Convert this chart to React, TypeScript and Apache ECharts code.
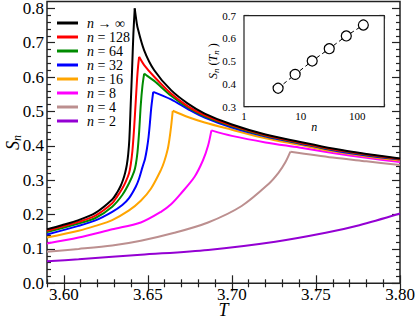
import React, { useEffect, useRef } from "react";
import * as echarts from "echarts";

// ---------- data ----------
const SERIES_NAMES = ["n → ∞", "n = 128", "n = 64", "n = 32", "n = 16", "n = 8", "n = 4", "n = 2"];
const COLORS = ["#000000", "#ff0000", "#008b00", "#0000ff", "#ffa500", "#ff00ff", "#bc8f8f", "#9400d3"];

const tInf = [3.59, 3.5988, 3.6088, 3.6188, 3.6288, 3.6318, 3.6338, 3.6353, 3.6365, 3.6375, 3.6383, 3.639, 3.6398, 3.6406, 3.6414, 3.6422, 3.643, 3.6438, 3.6478, 3.6538, 3.6638, 3.6738, 3.6838, 3.70, 3.72, 3.74, 3.76, 3.78, 3.80];
const sInf = [0.157, 0.169, 0.184, 0.205, 0.244, 0.265, 0.283, 0.302, 0.322, 0.345, 0.375, 0.42, 0.52, 0.62, 0.727, 0.80, 0.77, 0.746, 0.678, 0.62, 0.562, 0.523, 0.494, 0.462, 0.433, 0.412, 0.392, 0.376, 0.363];

const t128 = [3.59, 3.6088, 3.6188, 3.6288, 3.6318, 3.6348, 3.6368, 3.6388, 3.6398, 3.6408, 3.6418, 3.6428, 3.6436, 3.6442, 3.6448, 3.6478, 3.6538, 3.6638, 3.6738, 3.6838, 3.70, 3.72, 3.74, 3.76, 3.78, 3.80];
const s128 = [0.153, 0.179, 0.197, 0.233, 0.253, 0.276, 0.295, 0.32, 0.345, 0.385, 0.45, 0.53, 0.595, 0.632, 0.659, 0.635, 0.601, 0.552, 0.515, 0.489, 0.459, 0.431, 0.41, 0.39, 0.375, 0.362];

const t64 = [3.59, 3.6088, 3.6188, 3.6288, 3.6348, 3.6388, 3.6418, 3.6428, 3.6438, 3.6448, 3.6458, 3.6468, 3.6478, 3.6498, 3.6538, 3.6638, 3.6738, 3.6838, 3.70, 3.72, 3.74, 3.76, 3.78, 3.80];
const s64 = [0.149, 0.174, 0.19, 0.223, 0.257, 0.291, 0.325, 0.345, 0.38, 0.44, 0.52, 0.575, 0.61, 0.603, 0.589, 0.546, 0.512, 0.486, 0.457, 0.429, 0.409, 0.389, 0.374, 0.3615];

const t32 = [3.59, 3.6088, 3.6188, 3.6288, 3.6348, 3.6388, 3.6428, 3.6448, 3.6468, 3.6483, 3.6494, 3.6504, 3.6512, 3.652, 3.6532, 3.6638, 3.6738, 3.6838, 3.70, 3.72, 3.74, 3.76, 3.78, 3.80];
const s32 = [0.142, 0.167, 0.183, 0.208, 0.228, 0.248, 0.281, 0.305, 0.338, 0.362, 0.39, 0.425, 0.465, 0.51, 0.557, 0.535, 0.507, 0.482, 0.453, 0.427, 0.407, 0.387, 0.372, 0.36];

const t16 = [3.59, 3.6088, 3.6188, 3.6288, 3.6388, 3.6458, 3.6518, 3.6578, 3.6598, 3.6618, 3.6628, 3.6638, 3.6648, 3.6738, 3.6838, 3.70, 3.72, 3.74, 3.76, 3.78, 3.80];
const s16 = [0.133, 0.153, 0.167, 0.184, 0.212, 0.24, 0.275, 0.33, 0.355, 0.39, 0.418, 0.455, 0.502, 0.484, 0.468, 0.447, 0.422, 0.403, 0.384, 0.369, 0.357];

const t8 = [3.59, 3.6088, 3.6288, 3.6458, 3.6578, 3.6638, 3.6698, 3.6778, 3.6828, 3.6858, 3.6878, 3.70, 3.72, 3.74, 3.76, 3.78, 3.80];
const s8 = [0.116, 0.133, 0.157, 0.177, 0.208, 0.23, 0.262, 0.31, 0.358, 0.40, 0.445, 0.429, 0.41, 0.395, 0.379, 0.365, 0.353];

const t4 = [3.59, 3.6088, 3.6288, 3.6458, 3.6658, 3.6858, 3.7058, 3.7218, 3.7278, 3.7318, 3.7348, 3.76, 3.78, 3.80];
const s4 = [0.092, 0.1, 0.11, 0.124, 0.147, 0.177, 0.225, 0.289, 0.322, 0.352, 0.383, 0.366, 0.355, 0.344];

const t2 = [3.59, 3.6088, 3.6288, 3.6458, 3.6858, 3.7258, 3.7558, 3.7758, 3.80];
const s2 = [0.064, 0.07, 0.077, 0.083, 0.097, 0.121, 0.147, 0.169, 0.203];

const insetN = [4, 8, 16, 32, 64, 128];
const insetS = [0.381, 0.442, 0.501, 0.555, 0.611, 0.659];

// tick positions
const xMajor = [3.6, 3.65, 3.7, 3.75, 3.8];
const xMinor = [3.59, 3.61, 3.62, 3.63, 3.64, 3.66, 3.67, 3.68, 3.69, 3.71, 3.72, 3.73, 3.74, 3.76, 3.77, 3.78, 3.79];
const yMajor = [0, 0.1, 0.2, 0.3, 0.4, 0.5, 0.6, 0.7, 0.8];
const insetXMajor = [1, 10, 100];
const insetXMinor = [2, 3, 4, 5, 6, 7, 8, 9, 20, 30, 40, 50, 60, 70, 80, 90, 200, 300];
const insetYMajor = [0.3, 0.4, 0.5, 0.6, 0.7];
const insetYMinor = [0.35, 0.45, 0.55, 0.65];

const SERIES_T = [tInf, t128, t64, t32, t16, t8, t4, t2];
const SERIES_S = [sInf, s128, s64, s32, s16, s8, s4, s2];

// ---------- styling ----------
const FONT = "'Liberation Serif', 'Times New Roman', Times, 'DejaVu Serif', serif";
const AX = "#222";

function zip(a: number[], b: number[]) {
  return a.map((v, i) => [v, b[i]]);
}

function peakIndex(s: number[]) {
  let k = 0;
  for (let i = 1; i < s.length; i++) if (s[i] > s[k]) k = i;
  return k;
}

function yMinorTicks(): number[] {
  const out: number[] = [];
  for (let k = 1; k < 41; k++) {
    if (k % 5 !== 0) out.push(Math.round(k * 2) / 100);
  }
  return out;
}

function axis(opts: any) {
  const { kind, gridIndex, position, min, max, ticks, len, labels, labelFmt, fontSize, labelLH, margin, name, nameGap, rich, nameStyle, logType } = opts;
  return {
    type: logType ? "log" : "value",
    logBase: 10,
    gridIndex,
    position,
    min,
    max,
    axisLine: { show: false },
    splitLine: { show: false },
    axisTick: {
      show: true,
      inside: true,
      length: len,
      customValues: ticks,
      lineStyle: { color: AX, width: 1.2 },
    },
    axisLabel: labels
      ? {
          show: true,
          customValues: labels,
          formatter: labelFmt,
          fontFamily: FONT,
          fontSize,
          lineHeight: labelLH,
          color: "#000",
          margin,
        }
      : { show: false },
    name: name || "",
    nameLocation: "middle",
    nameGap,
    nameMoveOverlap: false,
    nameRotate: kind === "y" ? 90 : 0,
    nameTextStyle: name ? { rich, fontFamily: FONT, color: "#000", ...(nameStyle || {}) } : undefined,
  };
}

const mainRich = {
  i: { fontFamily: FONT, fontStyle: "italic", fontSize: 18, color: "#000" },
  s: { fontFamily: FONT, fontStyle: "italic", fontSize: 12, color: "#000", padding: [9, 0, 0, 0] },
};
const insetRich = {
  i: { fontFamily: FONT, fontStyle: "italic", fontSize: 12, color: "#000" },
  r: { fontFamily: FONT, fontSize: 12, color: "#000" },
  s: { fontFamily: FONT, fontStyle: "italic", fontSize: 9, color: "#000", padding: [6, 0, 0, 0] },
};

export default function App() {
  const ref = useRef<HTMLDivElement>(null);

  useEffect(() => {
    if (!ref.current) return;
    const chart = echarts.init(ref.current, undefined, { renderer: "svg" });

    const mainX = { gridIndex: 0, min: 3.59, max: 3.8 };
    const mainY = { gridIndex: 0, min: 0, max: 0.82 };
    const inX = { gridIndex: 1, min: 1, max: 300, logType: true };
    const inY = { gridIndex: 1, min: 0.3, max: 0.7 };

    const xAxes = [
      axis({
        ...mainX, kind: "x", position: "bottom", ticks: xMajor, len: 8, labels: xMajor,
        labelFmt: (v: number) => v.toFixed(2), fontSize: 17, labelLH: 12, margin: 5,
        name: "T", nameGap: 20, nameStyle: { fontStyle: "italic", fontSize: 18, lineHeight: 13 },
      }),
      axis({ ...mainX, kind: "x", position: "bottom", ticks: xMinor, len: 4 }),
      axis({ ...mainX, kind: "x", position: "top", ticks: xMajor, len: 8 }),
      axis({ ...mainX, kind: "x", position: "top", ticks: xMinor, len: 4 }),
      axis({ ...inX, kind: "x", position: "bottom", ticks: insetXMajor, len: 5, labels: insetXMajor, labelFmt: (v: number) => String(Math.round(v)), fontSize: 11, margin: 4, name: "{i|n}", nameGap: 14, rich: insetRich }),
      axis({ ...inX, kind: "x", position: "bottom", ticks: insetXMinor, len: 3 }),
      axis({ ...inX, kind: "x", position: "top", ticks: insetXMajor, len: 5 }),
      axis({ ...inX, kind: "x", position: "top", ticks: insetXMinor, len: 3 }),
    ];
    const yAxes = [
      axis({ ...mainY, kind: "y", position: "left", ticks: yMajor, len: 8, labels: yMajor, labelFmt: (v: number) => v.toFixed(1), fontSize: 17, margin: 3, name: "{i|S}{s|n}", nameGap: 24, rich: mainRich }),
      axis({ ...mainY, kind: "y", position: "left", ticks: yMinorTicks(), len: 4 }),
      axis({ ...mainY, kind: "y", position: "right", ticks: yMajor, len: 8 }),
      axis({ ...mainY, kind: "y", position: "right", ticks: yMinorTicks(), len: 4 }),
      axis({ ...inY, kind: "y", position: "left", ticks: insetYMajor, len: 5, labels: insetYMajor, labelFmt: (v: number) => v.toFixed(1), fontSize: 11, margin: 8, name: "{i|S}{s|n}{r| (}{i|T}{s|n}{r| )}", nameGap: 24, rich: insetRich }),
      axis({ ...inY, kind: "y", position: "left", ticks: insetYMinor, len: 3 }),
      axis({ ...inY, kind: "y", position: "right", ticks: insetYMajor, len: 5 }),
      axis({ ...inY, kind: "y", position: "right", ticks: insetYMinor, len: 3 }),
    ];

    const mainSeries: any[] = [];
    SERIES_NAMES.forEach((name, i) => {
      const pts = zip(SERIES_T[i], SERIES_S[i]);
      const k = peakIndex(SERIES_S[i]);
      const branches = k < pts.length - 1 ? [pts.slice(0, k + 1), pts.slice(k)] : [pts];
      branches.forEach((data) => {
        mainSeries.push({
          name,
          type: "line",
          xAxisIndex: 0,
          yAxisIndex: 0,
          data,
          showSymbol: false,
          symbol: "none",
          smooth: 0.3,
          lineStyle: { color: COLORS[i], width: 2 },
          itemStyle: { color: COLORS[i] },
          z: 10 + (SERIES_NAMES.length - i),
        });
      });
    });

    chart.setOption({
      animation: false,
      backgroundColor: "#fff",
      textStyle: { fontFamily: FONT },
      grid: [
        { left: 47, right: 15, top: 1.5, bottom: 34.7, show: true, borderColor: AX, borderWidth: 1.5, backgroundColor: "transparent", outerBoundsMode: "none" },
        { left: 244, right: 30.7, top: 15.7, bottom: 211.3, show: true, borderColor: AX, borderWidth: 1.2, backgroundColor: "#fff", outerBoundsMode: "none", z: 20 },
      ],
      legend: {
        data: SERIES_NAMES,
        orient: "vertical",
        left: 57,
        top: 16,
        padding: 0,
        itemGap: 0,
        itemWidth: 21,
        itemHeight: 3,
        icon: "rect",
        textStyle: {
          fontFamily: FONT,
          fontSize: 14,
          lineHeight: 14,
          color: "#000",
          padding: [0, 0, 0, 4],
          rich: { i: { fontFamily: FONT, fontStyle: "italic", fontSize: 14, color: "#000" } },
        },
        formatter: (name: string) => name.replace(/^n/, "{i|n}"),
      },
      xAxis: xAxes,
      yAxis: yAxes,
      series: [
        ...mainSeries,
        {
          name: "inset",
          type: "line",
          xAxisIndex: 4,
          yAxisIndex: 4,
          data: zip(insetN, insetS),
          symbol: "circle",
          symbolSize: 10,
          itemStyle: { color: "#fff", borderColor: "#000", borderWidth: 1.2 },
          lineStyle: { color: "#000", width: 1, type: [4, 3] },
          z: 30,
        },
      ],
    });

    return () => chart.dispose();
  }, []);

  return <div ref={ref} style={{ position: "absolute", left: 0, top: 0, width: 415, height: 318 }} />;
}
